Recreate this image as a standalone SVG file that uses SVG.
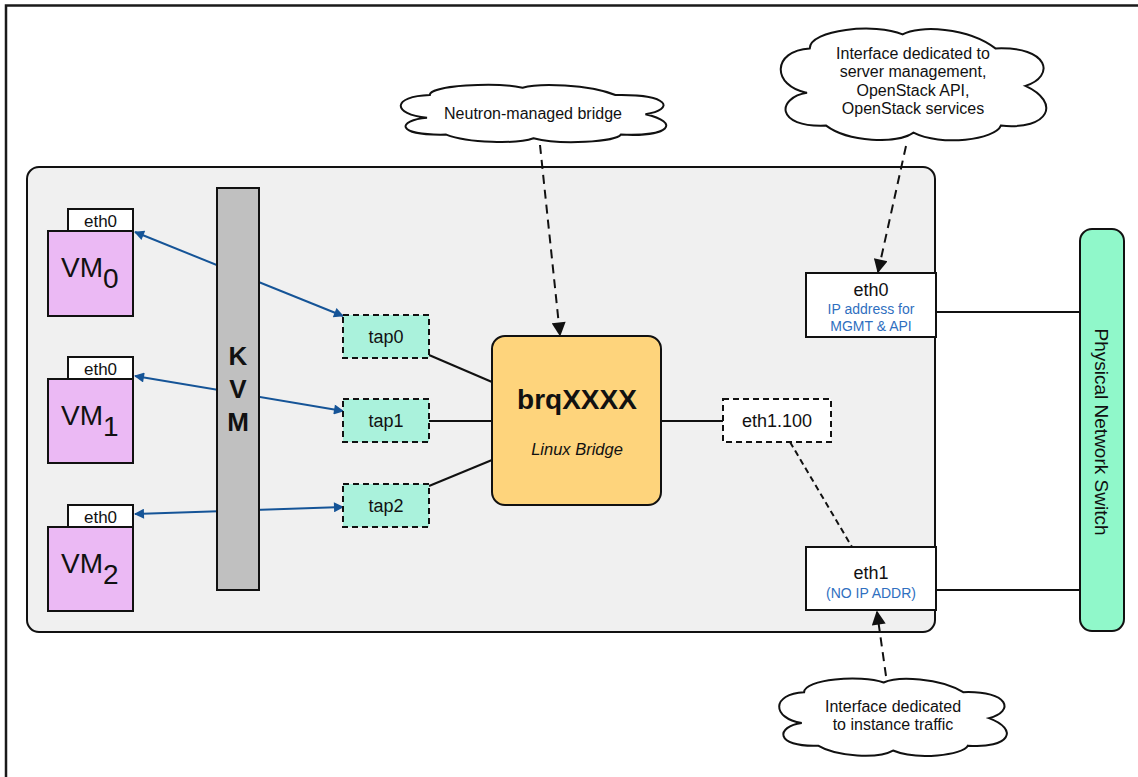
<svg xmlns="http://www.w3.org/2000/svg" xmlns:xlink="http://www.w3.org/1999/xlink" width="1138" height="777" viewBox="0 0 1138 777">
<style>
text{font-family:"Liberation Sans",Arial,Helvetica,sans-serif;fill:#111}
.box{stroke:#111;stroke-width:2}
.dash{stroke-dasharray:6 4}
.blue{stroke:#155497;stroke-width:2;fill:none}
.blk{stroke:#111;stroke-width:2;fill:none}
.note{stroke:#111;stroke-width:2;fill:none;stroke-dasharray:9 6}
.cl{fill:#fff;stroke:#111;stroke-width:2}
.bt{fill:#2f6fc0}
.ct{font-size:16px}
</style>
<defs>
<marker id="ab" viewBox="0 0 10 10" refX="9" refY="5" markerWidth="14" markerHeight="10" markerUnits="userSpaceOnUse" orient="auto-start-reverse"><path d="M0,0 L10,5 L0,10 Z" fill="#155497"/></marker>
<marker id="ak" viewBox="0 0 10 10" refX="9" refY="5" markerWidth="17" markerHeight="14" markerUnits="userSpaceOnUse" orient="auto"><path d="M0,0 L10,5 L0,10 Z" fill="#111"/></marker>
<path id="cloud" vector-effect="non-scaling-stroke" d="M11,58 C0,62 -1,88 18,86 C26,100 44,102 50,92 C60,104 80,98 82,86 C100,90 104,66 91,52 C102,44 100,18 80,20 C70,2 52,0 46,8 C36,-2 12,4 12,20 C-2,22 -2,52 11,58 Z"/>
</defs>
<rect x="0" y="0" width="1138" height="777" fill="#fff"/>
<rect x="6" y="5.5" width="1150" height="800" fill="none" stroke="#1a1a1a" stroke-width="2.5"/>

<g id="host"><rect x="27" y="167" width="908" height="465" rx="12" fill="#f0f0f0" class="box"/></g>

<g id="connectors">
<line x1="135" y1="232" x2="343" y2="316" class="blue" marker-start="url(#ab)" marker-end="url(#ab)"/>
<line x1="135" y1="376" x2="343" y2="411" class="blue" marker-start="url(#ab)" marker-end="url(#ab)"/>
<line x1="135" y1="514" x2="343" y2="507" class="blue" marker-start="url(#ab)" marker-end="url(#ab)"/>
<line x1="429" y1="355" x2="492" y2="382" class="blk"/>
<line x1="429" y1="421" x2="492" y2="421" class="blk"/>
<line x1="429" y1="486" x2="492" y2="460" class="blk"/>
<line x1="661" y1="421" x2="723" y2="421" class="blk"/>
<line x1="790" y1="442" x2="852" y2="547" class="blk dash"/>
<line x1="936" y1="312" x2="1080" y2="312" class="blk"/>
<line x1="936" y1="590" x2="1080" y2="590" class="blk"/>
<line x1="540" y1="145" x2="560" y2="335" class="note" marker-end="url(#ak)"/>
<line x1="906" y1="146" x2="878" y2="272" class="note" marker-end="url(#ak)"/>
<line x1="886" y1="676" x2="877" y2="612" class="note" marker-end="url(#ak)"/>
</g>

<g id="kvm"><rect x="217" y="188" width="42" height="402" fill="#c0c0c0" class="box"/>
<text x="238" y="365" font-size="26" font-weight="bold" text-anchor="middle">K</text>
<text x="238" y="398" font-size="26" font-weight="bold" text-anchor="middle">V</text>
<text x="238" y="431" font-size="26" font-weight="bold" text-anchor="middle">M</text></g>

<g id="vm0"><rect x="68" y="209" width="65" height="22" fill="#fff" class="box"/><text x="100.5" y="227" font-size="17" text-anchor="middle">eth0</text>
<rect x="48" y="231" width="85" height="85" fill="#ebb9f4" class="box"/><text x="61" y="277" font-size="28">VM<tspan dy="11">0</tspan></text></g>
<g id="vm1"><rect x="68" y="357" width="65" height="22" fill="#fff" class="box"/><text x="100.5" y="375" font-size="17" text-anchor="middle">eth0</text>
<rect x="48" y="379" width="85" height="84" fill="#ebb9f4" class="box"/><text x="61" y="425" font-size="28">VM<tspan dy="11">1</tspan></text></g>
<g id="vm2"><rect x="68" y="505" width="65" height="22" fill="#fff" class="box"/><text x="100.5" y="523" font-size="17" text-anchor="middle">eth0</text>
<rect x="48" y="527" width="85" height="84" fill="#ebb9f4" class="box"/><text x="61" y="573" font-size="28">VM<tspan dy="11">2</tspan></text></g>

<g id="tap0"><rect x="343" y="315" width="86" height="43" fill="#aaf2dc" class="box dash"/><text x="386" y="343" font-size="18" text-anchor="middle">tap0</text></g>
<g id="tap1"><rect x="343" y="399" width="86" height="43" fill="#aaf2dc" class="box dash"/><text x="386" y="427" font-size="18" text-anchor="middle">tap1</text></g>
<g id="tap2"><rect x="343" y="484" width="86" height="43" fill="#aaf2dc" class="box dash"/><text x="386" y="512" font-size="18" text-anchor="middle">tap2</text></g>

<g id="bridge"><rect x="492" y="336" width="169" height="169" rx="13" fill="#fed47c" class="box"/>
<text x="577" y="409" font-size="28" font-weight="bold" text-anchor="middle">brqXXXX</text>
<text x="577" y="455" font-size="16.5" font-style="italic" text-anchor="middle">Linux Bridge</text></g>

<g id="eth1-100"><rect x="723" y="399" width="108" height="43" fill="#fff" class="box dash"/><text x="777" y="427" font-size="18" text-anchor="middle">eth1.100</text></g>

<g id="eth0"><rect x="806" y="273" width="130" height="64" fill="#fff" class="box"/>
<text x="871" y="296" font-size="18" text-anchor="middle">eth0</text>
<text x="871" y="314" font-size="14" text-anchor="middle" class="bt">IP address for</text>
<text x="871" y="331" font-size="14" text-anchor="middle" class="bt">MGMT &amp; API</text></g>

<g id="eth1"><rect x="806" y="547" width="130" height="63" fill="#fff" class="box"/>
<text x="871" y="579" font-size="18" text-anchor="middle">eth1</text>
<text x="871" y="598" font-size="14" text-anchor="middle" class="bt">(NO IP ADDR)</text></g>

<g id="switch"><rect x="1080" y="229" width="44" height="402" rx="12" fill="#90f8ca" class="box"/>
<text transform="translate(1095,432) rotate(90)" font-size="19" text-anchor="middle">Physical Network Switch</text></g>

<g id="cloud-bridge"><use xlink:href="#cloud" href="#cloud" class="cl" transform="translate(397,83) scale(2.73,0.6)"/>
<text x="533" y="119" class="ct" text-anchor="middle">Neutron-managed bridge</text></g>

<g id="cloud-mgmt"><use xlink:href="#cloud" href="#cloud" class="cl" transform="translate(777,25) scale(2.73,1.17)"/>
<text x="913" y="59" class="ct" text-anchor="middle">Interface dedicated to</text>
<text x="913" y="77" class="ct" text-anchor="middle">server management,</text>
<text x="913" y="96" class="ct" text-anchor="middle">OpenStack API,</text>
<text x="913" y="114" class="ct" text-anchor="middle">OpenStack services</text></g>

<g id="cloud-instance"><use xlink:href="#cloud" href="#cloud" class="cl" transform="translate(776,676) scale(2.34,0.81)"/>
<text x="893" y="712" class="ct" text-anchor="middle">Interface dedicated</text>
<text x="893" y="730" class="ct" text-anchor="middle">to instance traffic</text></g>
</svg>
